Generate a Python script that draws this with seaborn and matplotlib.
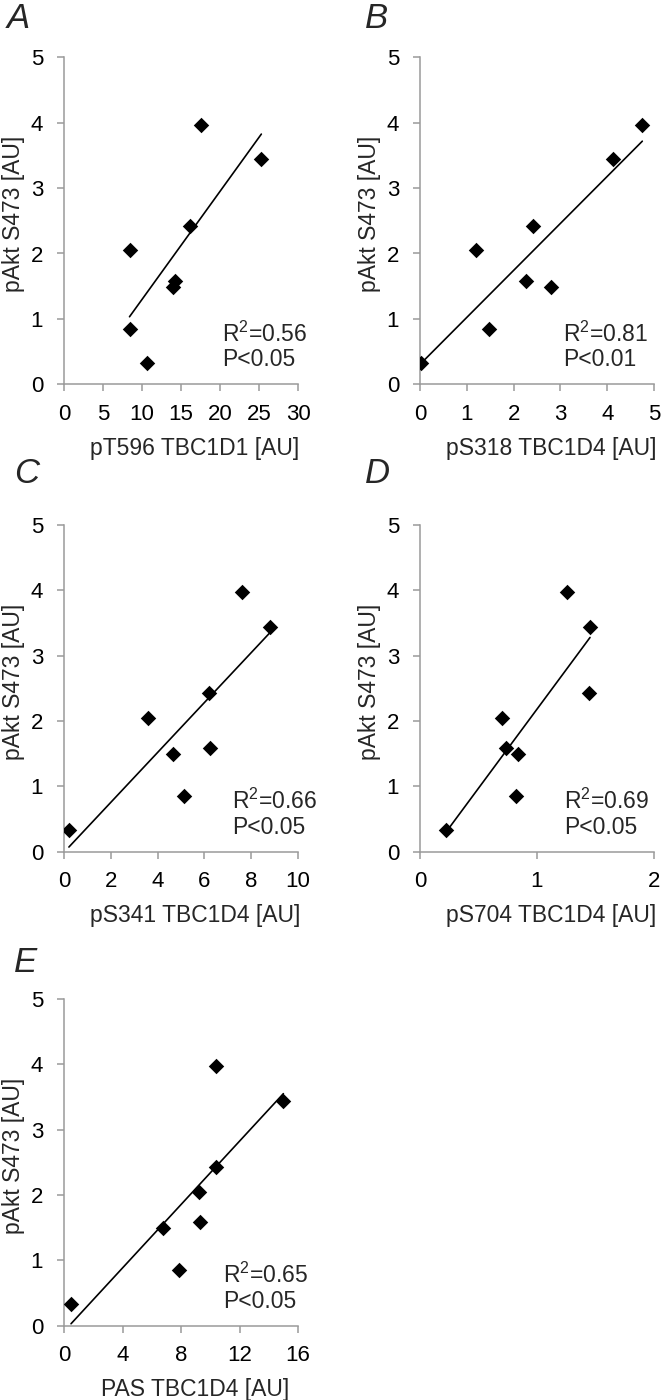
import numpy as np
import pandas as pd
import matplotlib
matplotlib.use("Agg")
import matplotlib.pyplot as plt
import seaborn as sns

# Datos
pakt_s473 = [3.97, 3.44, 2.42, 2.05, 1.58, 1.49, 0.85, 0.33]
pt596_tbc1d1 = [17.6, 25.3, 16.1, 8.5, 14.25, 14.0, 8.4, 10.65]
ps318_tbc1d4 = [4.75, 4.13, 2.42, 1.19, 2.26, 2.80, 1.48, 0.03]
ps341_tbc1d4 = [7.60, 8.79, 6.21, 3.61, 6.25, 4.65, 5.14, 0.21]
ps704_tbc1d4 = [1.254, 1.453, 1.444, 0.698, 0.732, 0.835, 0.818, 0.225]
pas_tbc1d4 = [10.39, 15.0, 10.39, 9.24, 9.27, 6.80, 7.85, 0.48]

panel_letters = ["A", "B", "C", "D", "E"]
x_labels = ["pT596 TBC1D1 [AU]", "pS318 TBC1D4 [AU]", "pS341 TBC1D4 [AU]",
            "pS704 TBC1D4 [AU]", "PAS TBC1D4 [AU]"]
r2_values = ["0.56", "0.81", "0.66", "0.69", "0.65"]
p_values = ["P<0.05", "P<0.01", "P<0.05", "P<0.05", "P<0.05"]
x_max = [30, 5, 10, 2, 16]
x_step = [5, 1, 2, 1, 4]

x_data = [pt596_tbc1d1, ps318_tbc1d4, ps341_tbc1d4, ps704_tbc1d4, pas_tbc1d4]

# Estilo
sns.set_style("ticks")
plt.rcParams['font.family'] = ['Liberation Sans', 'DejaVu Sans']
plt.rcParams['mathtext.fontset'] = 'custom'
plt.rcParams['mathtext.rm'] = 'Liberation Sans'
plt.rcParams['mathtext.default'] = 'regular'

W, H = 661, 1400
fig = plt.figure(figsize=(W / 100, H / 100), dpi=100)

# posiciones de los ejes en pixeles (izq, arriba del eje x)
ax_left = [64, 420, 64, 420, 64]
ax_bottom = [384.3, 384.3, 851.7, 851.7, 1325.7]
ax_w, ax_h = 234, 327
letter_pos = [(7, 28), (365, 28), (14, 483), (365, 483), (14, 972)]
txt_x = [0.675, 0.611, 0.72, 0.615, 0.678]

grey = '#9a9a9a'

for i in range(5):
    ax = fig.add_axes([ax_left[i] / W, 1 - ax_bottom[i] / H, ax_w / W, ax_h / H])
    df = pd.DataFrame({'x': x_data[i], 'y': pakt_s473})
    sns.regplot(data=df, x='x', y='y', ci=None, marker='D', ax=ax,
                scatter_kws=dict(s=62, color='black', alpha=1, zorder=3, linewidths=0),
                line_kws=dict(color='black', lw=1.2))
    ax.set_xlim(0, x_max[i])
    ax.set_ylim(0, 5)
    ax.set_xticks(np.arange(0, x_max[i] + 0.001, x_step[i]))
    ax.set_yticks(range(0, 6))
    sns.despine(ax=ax)
    for s in ['left', 'bottom']:
        ax.spines[s].set_color(grey)
        ax.spines[s].set_linewidth(1.1)
    ax.tick_params(direction='out', length=5, width=1.1, color=grey,
                   labelsize=16, labelcolor='black')
    ax.tick_params(axis='x', pad=9)
    ax.tick_params(axis='y', pad=10)
    ax.set_xlabel(x_labels[i], fontsize=16.5)
    ax.set_ylabel('pAkt S473 [AU]', fontsize=16.5)
    ax.xaxis.set_label_coords(0.56, -0.16)
    ax.yaxis.set_label_coords(-0.165, 0.52)
    ax.text(txt_x[i], 0.153, 'R$^2$=' + r2_values[i], transform=ax.transAxes,
            fontsize=16.5, va='center', ha='left')
    ax.text(txt_x[i], 0.075, p_values[i], transform=ax.transAxes,
            fontsize=16.5, va='center', ha='left')
    lx, ly = letter_pos[i]
    fig.text(lx / W, 1 - ly / H, panel_letters[i], fontsize=25,
             style='italic', ha='left', va='baseline')

plt.savefig('out.png', dpi=100)
